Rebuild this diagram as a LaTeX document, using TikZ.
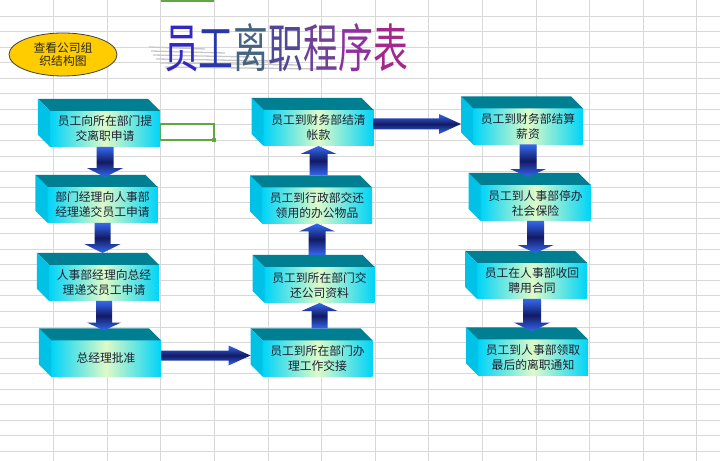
\documentclass[tikz,border=0pt]{standalone}
\usepackage{fontspec}
\setmainfont{Noto Sans CJK SC}
\newfontfamily\titlefont{Noto Sans CJK SC}[FakeStretch=0.67]
\usetikzlibrary{calc,shapes.geometric}
\definecolor{gridgray}{RGB}{216,216,216}
\definecolor{cellgreen}{RGB}{98,166,68}
\definecolor{ovalgold}{RGB}{255,204,0}
\definecolor{boxtop}{RGB}{0,126,146}
\definecolor{boxside}{RGB}{0,194,230}
\definecolor{boxedge}{RGB}{0,212,248}
\definecolor{boxglow}{RGB}{222,250,200}
\definecolor{arrowblue}{RGB}{52,104,238}
\definecolor{arrownavy}{RGB}{18,26,100}
\definecolor{textdark}{RGB}{28,32,48}
\definecolor{shadowgray}{RGB}{200,200,200}
\definecolor{titleA}{RGB}{52,40,196}
\definecolor{titleB}{RGB}{40,56,172}
\definecolor{titleC}{RGB}{70,100,130}
\definecolor{titleD}{RGB}{80,72,150}
\definecolor{titleE}{RGB}{112,64,150}
\definecolor{titleF}{RGB}{142,48,160}
\definecolor{titleG}{RGB}{164,40,140}
\tikzset{
  grid line/.style={gridgray, line width=0.8bp},
  stepcard/.style={minimum width=110bp, minimum height=36bp, inner sep=0pt, outer sep=0pt,
    text width=100bp, align=center, left color=boxedge, right color=boxedge, middle color=boxglow,
    text=textdark, font=\fontsize{11.8bp}{15bp}\selectfont},
  cardtop/.style={fill=boxtop},
  cardside/.style={fill=boxside},
  orgoval/.style={ellipse, draw=black!75, line width=0.8bp, fill=ovalgold, minimum width=108bp,
    minimum height=43bp, inner sep=0pt, align=center, text=black!85,
    font=\fontsize{11.8bp}{12.5bp}\selectfont},
  flowshade/.style={top color=arrowblue, bottom color=arrowblue, middle color=arrownavy},
  streak/.style={shadowgray, line width=1.3bp}
}
% flat block arrow: from, to, half shaft, half head, head length
\newcommand{\flowarrow}[5]{%
  \path[flowshade] let \p1=(#1), \p2=(#2), \n1={atan2(\y2-\y1,\x2-\x1)}, \n2={veclen(\x2-\x1,\y2-\y1)}
    in [shift={(\p1)}, rotate=\n1]
    (0,-#3) -- (\n2-#5,-#3) -- (\n2-#5,-#4) -- (\n2,0) -- (\n2-#5,#4) -- (\n2-#5,#3) -- (0,#3) -- cycle;}

\begin{document}
\begin{tikzpicture}[x=1bp,y=-1bp]
  \useasboundingbox (0,0) rectangle (720,461);
  \fill[white] (0,0) rectangle (720,461);
  % sheet grid
  \foreach \k in {0,...,28}
    \draw[grid line] (0,{16+15.55*\k}) -- (720,{16+15.55*\k});
  \foreach \k in {1,...,13}
    \draw[grid line] ({53.6*\k-0.1},0) -- ({53.6*\k-0.1},461);
  \draw[cellgreen, line width=2bp] (160.5,1) -- (214,1);
  \draw[cellgreen, line width=1.4bp] (160.5,124) rectangle (214,140);
  \fill[cellgreen] (212.3,138.3) rectangle (215.7,141.7);

  % title and its shadow
  \foreach \y/\a/\b in {47/149/205,51/151/225,55/153/250,59/156/275,63/160/300,67/165/320}
    \draw[streak] (\a,\y) -- (\b,\y+2);
  \node[anchor=base, inner sep=0pt] (title) at (286,68)
    {\titlefont\fontsize{52bp}{52bp}\selectfont\textcolor{titleA}{员}\textcolor{titleB}{工}\textcolor{titleC}{离}\textcolor{titleD}{职}\textcolor{titleE}{程}\textcolor{titleF}{序}\textcolor{titleG}{表}};

  \node[orgoval] (orgchart) at (63,54.5) {查看公司组\\织结构图};

  % left column
  \node[stepcard] (apply) at (105,129) {员工向所在部门提\\交离职申请};
  \node[stepcard] (mgr) at (102.5,205) {部门经理向人事部\\经理递交员工申请};
  \node[stepcard] (hrmgr) at (104,283) {人事部经理向总经\\理递交员工申请};
  \node[stepcard] (gm) at (106,358.5) {总经理批准};
  % middle column
  \node[stepcard] (handover) at (317.5,358.5) {员工到所在部门办\\理工作交接};
  \node[stepcard] (material) at (319.5,285) {员工到所在部门交\\还公司资料};
  \node[stepcard] (office) at (317,205.5) {员工到行政部交还\\领用的办公物品};
  \node[stepcard] (settle) at (318.5,128) {员工到财务部结清\\帐款};
  % right column
  \node[stepcard] (salary) at (528,126.5) {员工到财务部结算\\薪资};
  \node[stepcard] (insure) at (535.5,203) {员工到人事部停办\\社会保险};
  \node[stepcard] (contract) at (532,281) {员工在人事部收回\\聘用合同};
  \node[stepcard] (notice) at (533,357.5) {员工到人事部领取\\最后的离职通知};

  \foreach \n in {apply,mgr,hrmgr,gm,handover,material,office,settle,salary,insure,contract,notice} {
    \fill[cardtop] (\n.north west) -- ++(-12,-12) -- ([shift={(-12,-12)}]\n.north east) -- (\n.north east) -- cycle;
    \fill[cardside] (\n.north west) -- ++(-12,-12) -- ([shift={(-12,-12)}]\n.south west) -- (\n.south west) -- cycle;
  }

  % arrow ends
  \coordinate (mgrtop) at ([yshift=10bp]mgr.north);
  \coordinate (hrmgrtop) at ([yshift=12bp]hrmgr.north);
  \coordinate (gmtop) at ([yshift=10bp]gm.north);
  \coordinate (handovertop) at ([yshift=12bp]handover.north);
  \coordinate (materialtop) at ([yshift=12bp]material.north);
  \coordinate (officetop) at ([yshift=12bp]office.north);
  \coordinate (insuretop) at ([yshift=8bp]insure.north);
  \coordinate (contracttop) at ([yshift=10bp]contract.north);
  \coordinate (noticetop) at ([yshift=8bp]notice.north);
  \coordinate (gmout) at ([yshift=3bp]gm.east);
  \coordinate (settleout) at ([yshift=4bp]settle.east);
  \coordinate (handoverin) at ([xshift=-12bp]handover.west);
  \coordinate (salaryin) at ([xshift=-12bp]salary.west);

  \flowarrow{apply.south}{apply.south |- mgrtop}{8.5}{18}{9}
  \flowarrow{mgr.south}{mgr.south |- hrmgrtop}{8}{18}{9}
  \flowarrow{hrmgr.south}{hrmgr.south |- gmtop}{8}{17}{8}
  \flowarrow{gmout}{gmout -| handoverin}{5}{10}{22}
  \flowarrow{material.south |- handovertop}{material.south}{8}{18}{8}
  \flowarrow{office.south |- materialtop}{office.south}{8.5}{18}{8}
  \flowarrow{settle.south |- officetop}{settle.south}{9}{18}{8}
  \flowarrow{settleout}{settleout -| salaryin}{5.5}{10}{22}
  \flowarrow{salary.south}{salary.south |- insuretop}{8.5}{18}{8}
  \flowarrow{insure.south}{insure.south |- contracttop}{8.5}{18}{8}
  \flowarrow{contract.south}{contract.south |- noticetop}{9}{18}{9}
\end{tikzpicture}
\end{document}
